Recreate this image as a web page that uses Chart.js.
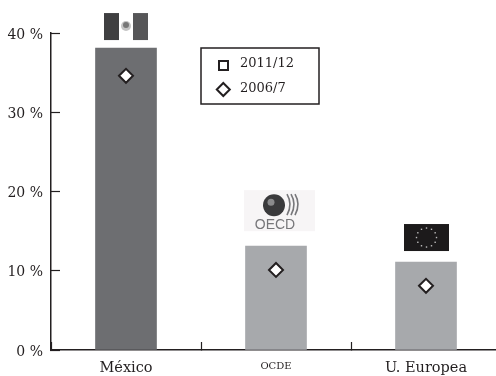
<!DOCTYPE html>
<html>
<head>
<meta charset="utf-8">
<style>
html, body { margin: 0; padding: 0; background: #fff; overflow: hidden; width: 496px; height: 376px; }
canvas { display: block; }
</style>
<script src="https://cdn.jsdelivr.net/npm/chart.js@4"></script>
</head>
<body>
<div style="width:510px;height:376px"><canvas id="chart" width="510" height="376"></canvas></div>
<script>
var categories = ['México', 'OCDE', 'U. Europea'];
var values_2011 = [38.1, 13.1, 11.1];
var values_2006 = [34.6, 10.1, 8.1];
var bar_colors = ['#6d6e71', '#a7a9ac', '#a7a9ac'];
var y_ticks = [0, 10, 20, 30, 40];
var ink = '#231f20';
var serif = '"DejaVu Serif", serif';

// flag / logo above each bar, placed from the bar's own position
var draw_mexico = function (ctx, cx, top) {
    ctx.fillStyle = '#3f3f41';
    ctx.fillRect(cx - 22, top - 35, 15, 27);
    ctx.fillStyle = '#565658';
    ctx.fillRect(cx + 7, top - 35, 15, 27);
    ctx.fillStyle = '#c4c4c4';
    ctx.beginPath();
    ctx.arc(cx, top - 22, 5, 0, Math.PI * 2);
    ctx.fill();
    ctx.fillStyle = '#777';
    ctx.beginPath();
    ctx.arc(cx, top - 23, 3, 0, Math.PI * 2);
    ctx.fill();
};

var draw_oecd = function (ctx, cx, top) {
    ctx.fillStyle = '#f7f5f6';
    ctx.fillRect(cx - 32, top - 56, 71, 41);
    ctx.fillStyle = '#3a3a3c';
    ctx.beginPath();
    ctx.arc(cx - 2, top - 41, 11, 0, Math.PI * 2);
    ctx.fill();
    ctx.fillStyle = '#8a8a8c';
    ctx.beginPath();
    ctx.arc(cx - 5, top - 44, 3.5, 0, Math.PI * 2);
    ctx.fill();
    ctx.strokeStyle = '#77777a';
    ctx.lineWidth = 1.6;
    [13, 17, 21].forEach(function (dx) {
        ctx.beginPath();
        ctx.moveTo(cx + dx - 2, top - 52);
        ctx.quadraticCurveTo(cx + dx + 4, top - 42, cx + dx - 2, top - 31);
        ctx.stroke();
    });
    ctx.fillStyle = '#77777a';
    ctx.font = '14px "Liberation Sans", sans-serif';
    ctx.textAlign = 'center';
    ctx.textBaseline = 'alphabetic';
    ctx.fillText('OECD', cx - 1, top - 17);
};

var draw_eu = function (ctx, cx, top) {
    ctx.fillStyle = '#1c1a1b';
    ctx.fillRect(cx - 22, top - 38, 45, 27);
    ctx.fillStyle = '#bdbdbd';
    for (var i = 0; i < 12; i++) {
        var a = i * Math.PI / 6;
        ctx.fillRect(cx + 0.5 + Math.cos(a) * 10 - 0.7, top - 24.5 + Math.sin(a) * 9.5 - 0.7, 1.4, 1.4);
    }
};

var flag_drawers = [draw_mexico, draw_oecd, draw_eu];

var extras = {
    id: 'extras',
    afterDraw: function (chart) {
        var ctx = chart.ctx;
        var meta = chart.getDatasetMeta(1);
        ctx.save();
        meta.data.forEach(function (bar, i) {
            flag_drawers[i](ctx, bar.x, bar.y);
        });

        // boxed legend
        ctx.strokeStyle = ink;
        ctx.lineWidth = 1.5;
        ctx.strokeRect(201, 48, 118, 56);
        ctx.strokeStyle = ink;
        ctx.lineWidth = 2;
        ctx.strokeRect(219, 61, 9, 9);
        ctx.fillStyle = '#fff';
        ctx.beginPath();
        ctx.moveTo(223.3, 83);
        ctx.lineTo(229.8, 89.5);
        ctx.lineTo(223.3, 96);
        ctx.lineTo(216.8, 89.5);
        ctx.closePath();
        ctx.fill();
        ctx.stroke();
        ctx.fillStyle = ink;
        ctx.font = '13px ' + serif;
        ctx.textAlign = 'left';
        ctx.textBaseline = 'middle';
        ctx.fillText(chart.data.datasets[1].label, 240, 64);
        ctx.fillText(chart.data.datasets[0].label, 240, 89);
        ctx.restore();
    }
};

var chart = new Chart(document.getElementById('chart'), {
    type: 'bar',
    data: {
        labels: categories,
        datasets: [
            {
                type: 'line',
                label: '2006/7',
                data: values_2006,
                showLine: false,
                pointStyle: 'rectRot',
                pointRadius: 7,
                pointBackgroundColor: '#fff',
                pointBorderColor: ink,
                pointBorderWidth: 2,
                order: 0
            },
            {
                label: '2011/12',
                data: values_2011,
                backgroundColor: bar_colors,
                barThickness: 61,
                order: 1
            }
        ]
    },
    options: {
        responsive: false,
        animation: false,
        layout: { padding: { top: 33, right: 0, left: 0, bottom: 0 } },
        plugins: {
            legend: { display: false },
            tooltip: { enabled: false }
        },
        scales: {
            x: {
                border: { color: ink, width: 1.5 },
                grid: { drawOnChartArea: false, color: ink, tickLength: -8, tickWidth: 1.2 },
                ticks: {
                    color: ink,
                    padding: 18,
                    maxRotation: 0,
                    autoSkip: false,
                    font: function (ctx) {
                        return { family: serif, size: ctx.index === 1 ? 10 : 14.5 };
                    }
                },
                afterFit: function (axis) { axis.height = 26; }
            },
            y: {
                min: 0,
                max: 40,
                afterBuildTicks: function (axis) {
                    axis.ticks = y_ticks.map(function (v) { return { value: v }; });
                },
                border: { color: ink, width: 1.5 },
                grid: { drawOnChartArea: false, color: ink, tickLength: -9, tickWidth: 1.2 },
                ticks: {
                    color: ink,
                    padding: 17,
                    labelOffset: 2,
                    font: { family: serif, size: 14 },
                    callback: function (v) { return v + ' %'; }
                },
                afterFit: function (axis) { axis.width = 51; }
            }
        }
    },
    plugins: [extras]
});
</script>
</body>
</html>
